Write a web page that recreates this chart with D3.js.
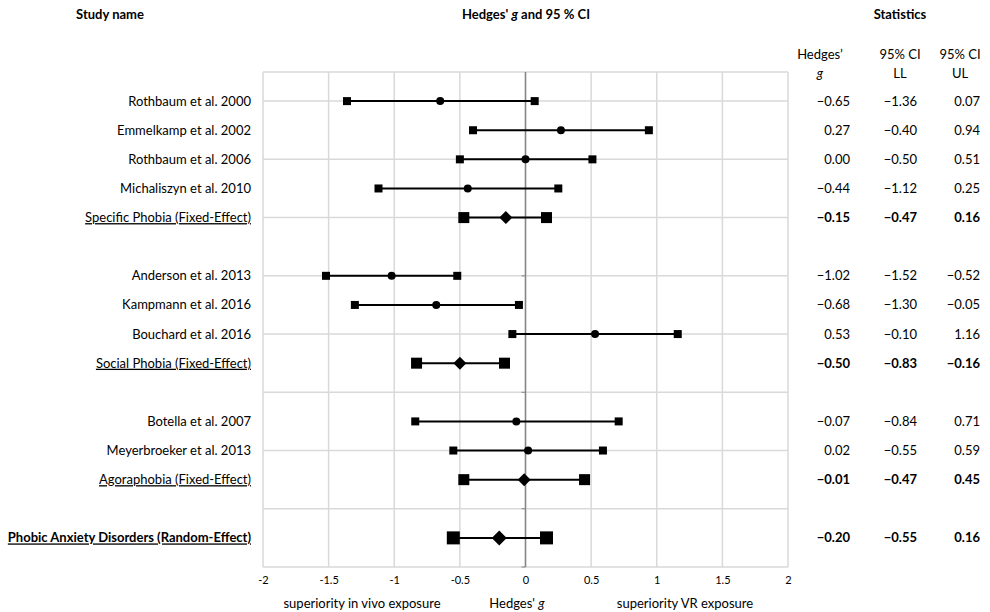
<!DOCTYPE html>
<html>
<head>
<meta charset="utf-8">
<script src="https://cdn.jsdelivr.net/npm/d3@7"></script>
<style>
  body { margin: 0; background: #fff; }
  text { font-family: Lato, "Noto Sans", sans-serif; fill: #000; }
</style>
</head>
<body>
<svg id="chart" width="990" height="612"></svg>
<script>
// Forest plot data
let studyNames = ["Rothbaum et al. 2000", "Emmelkamp et al. 2002", "Rothbaum et al. 2006",
    "Michaliszyn et al. 2010", "Specific Phobia (Fixed-Effect)",
    "Anderson et al. 2013", "Kampmann et al. 2016", "Bouchard et al. 2016",
    "Social Phobia (Fixed-Effect)",
    "Botella et al. 2007", "Meyerbroeker et al. 2013", "Agoraphobia (Fixed-Effect)",
    "Phobic Anxiety Disorders (Random-Effect)"];
let rowIndex = [0, 1, 2, 3, 4, 6, 7, 8, 9, 11, 12, 13, 15];
let rowType = ["study", "study", "study", "study", "fixed",
    "study", "study", "study", "fixed",
    "study", "study", "fixed", "random"];
let hedgesG = [-0.65, 0.27, 0.00, -0.44, -0.15, -1.02, -0.68, 0.53, -0.50, -0.07, 0.02, -0.01, -0.20];
let ciLow = [-1.36, -0.40, -0.50, -1.12, -0.47, -1.52, -1.30, -0.10, -0.83, -0.84, -0.55, -0.47, -0.55];
let ciHigh = [0.07, 0.94, 0.51, 0.25, 0.16, -0.52, -0.05, 1.16, -0.16, 0.71, 0.59, 0.45, 0.16];
let xTicks = [-2, -1.5, -1, -0.5, 0, 0.5, 1, 1.5, 2];
let rowGrid = [0, 2, 4, 6, 8, 10, 12, 14];

let svg = d3.select("#chart");

// plot area
let x = d3.scaleLinear().domain([-2, 2]).range([263, 788]);
let y = d3.scaleLinear().domain([-1, 16]).range([72, 567]);

let grid = svg.append("g");
grid.selectAll(".vgrid")
    .data(xTicks)
    .enter().append("line")
    .attr("x1", d => x(d)).attr("x2", d => x(d))
    .attr("y1", y(-1)).attr("y2", y(16))
    .attr("stroke", "#d9d9d9").attr("stroke-width", 1.5);

grid.selectAll(".hgrid")
    .data([-1].concat(rowGrid).concat([16]))
    .enter().append("line")
    .attr("x1", x(-2)).attr("x2", x(2))
    .attr("y1", d => y(d)).attr("y2", d => y(d))
    .attr("stroke", "#d9d9d9").attr("stroke-width", 1.5);

// zero line with small ticks
svg.append("line")
    .attr("x1", x(0)).attr("x2", x(0))
    .attr("y1", y(-1)).attr("y2", y(16))
    .attr("stroke", "#868686").attr("stroke-width", 1.5);
svg.selectAll(".ztick")
    .data(rowGrid.concat([16]))
    .enter().append("line")
    .attr("x1", x(0) - 4).attr("x2", x(0))
    .attr("y1", d => y(d)).attr("y2", d => y(d))
    .attr("stroke", "#868686").attr("stroke-width", 1);

// x axis
let xAxis = d3.axisBottom(x).tickValues(xTicks).tickSize(0).tickPadding(9)
    .tickFormat(d => String(d));
let axisG = svg.append("g")
    .attr("transform", "translate(0," + y(16) + ")")
    .call(xAxis);
axisG.select(".domain").remove();
axisG.selectAll("text").style("font-family", "Lato, sans-serif").style("font-size", "11px");

// axis captions
svg.append("text").attr("x", 362).attr("y", 608).attr("text-anchor", "middle")
    .style("font-size", "13px").text("superiority in vivo exposure");
let hg = svg.append("text").attr("x", 517).attr("y", 608).attr("text-anchor", "middle")
    .style("font-size", "13px");
hg.append("tspan").text("Hedges' ");
hg.append("tspan").style("font-style", "italic").text("g");
svg.append("text").attr("x", 685).attr("y", 608).attr("text-anchor", "middle")
    .style("font-size", "13px").text("superiority VR exposure");

// headers
svg.append("text").attr("x", 110).attr("y", 19).attr("text-anchor", "middle")
    .style("font-size", "13px").style("font-weight", "bold").text("Study name");
let ht = svg.append("text").attr("x", 526).attr("y", 19).attr("text-anchor", "middle")
    .style("font-size", "13px").style("font-weight", "bold");
ht.append("tspan").text("Hedges' ");
ht.append("tspan").style("font-style", "italic").text("g");
ht.append("tspan").text(" and 95 % CI");
svg.append("text").attr("x", 900).attr("y", 19).attr("text-anchor", "middle")
    .style("font-size", "13px").style("font-weight", "bold").text("Statistics");

// column headers
let colRight = [850, 917, 980];
let colHead1 = ["Hedges\u2019", "95% CI", "95% CI"];
let colHead2 = ["g", "LL", "UL"];
let colHeadX = [820, 900, 960];
svg.selectAll(".ch1").data(colHead1).enter().append("text")
    .attr("x", (d, i) => colHeadX[i]).attr("y", 54).attr("dy", "0.35em").attr("text-anchor", "middle")
    .style("font-size", "13px").text(d => d);
svg.selectAll(".ch2").data(colHead2).enter().append("text")
    .attr("x", (d, i) => colHeadX[i]).attr("y", 73).attr("dy", "0.35em").attr("text-anchor", "middle")
    .style("font-size", "13px").style("font-style", (d, i) => i === 0 ? "italic" : "normal")
    .text(d => d);

// study labels
svg.selectAll(".label").data(studyNames).enter().append("text")
    .attr("x", 251).attr("y", (d, i) => y(rowIndex[i])).attr("dy", "0.35em")
    .attr("text-anchor", "end")
    .style("font-size", "13px")
    .style("font-weight", (d, i) => rowType[i] === "random" ? "bold" : "normal")
    .style("text-decoration", (d, i) => rowType[i] === "study" ? "none" : "underline")
    .text(d => d);

// statistics columns
let fmt = v => (v < 0 ? "\u2212" : "") + Math.abs(v).toFixed(2);
[hedgesG, ciLow, ciHigh].forEach(function(col, c) {
    svg.selectAll(".stat" + c).data(col).enter().append("text")
        .attr("x", colRight[c]).attr("y", (d, i) => y(rowIndex[i])).attr("dy", "0.35em")
        .attr("text-anchor", "end")
        .style("font-size", "13px")
        .style("font-weight", (d, i) => rowType[i] === "study" ? "normal" : "bold")
        .text(d => fmt(d));
});

// CI lines and markers
let rows = svg.selectAll(".row").data(hedgesG).enter().append("g");
rows.append("line")
    .attr("x1", (d, i) => x(ciLow[i])).attr("x2", (d, i) => x(ciHigh[i]))
    .attr("y1", (d, i) => y(rowIndex[i])).attr("y2", (d, i) => y(rowIndex[i]))
    .attr("stroke", "#000").attr("stroke-width", 2);

let sqSize = t => t === "study" ? 8 : (t === "fixed" ? 11 : 13);
[ciLow, ciHigh].forEach(function(col) {
    rows.append("rect")
        .attr("width", (d, i) => sqSize(rowType[i]))
        .attr("height", (d, i) => sqSize(rowType[i]))
        .attr("x", (d, i) => x(col[i]) - sqSize(rowType[i]) / 2)
        .attr("y", (d, i) => y(rowIndex[i]) - sqSize(rowType[i]) / 2)
        .attr("fill", "#000");
});

rows.each(function(d, i) {
    let g = d3.select(this);
    let cx = x(d), cy = y(rowIndex[i]);
    if (rowType[i] === "study") {
        g.append("circle").attr("cx", cx).attr("cy", cy).attr("r", 4).attr("fill", "#000");
    } else {
        let r = rowType[i] === "fixed" ? 6.5 : 7.5;
        g.append("path")
            .attr("d", "M" + cx + "," + (cy - r) + "L" + (cx + r) + "," + cy + "L" + cx + "," + (cy + r) + "L" + (cx - r) + "," + cy + "Z")
            .attr("fill", "#000");
    }
});
</script>
</body>
</html>
